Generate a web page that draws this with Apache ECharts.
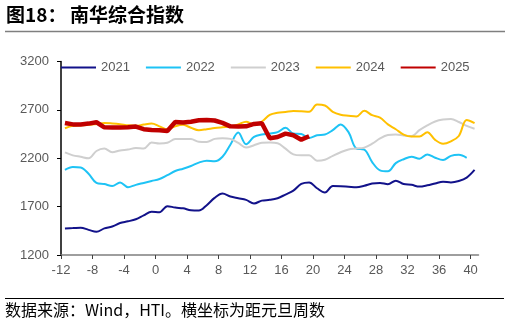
<!DOCTYPE html>
<html>
<head>
<meta charset="utf-8">
<script src="https://cdn.jsdelivr.net/npm/echarts@6/dist/echarts.min.js"></script>
<style>
html,body{margin:0;padding:0;background:#fff;}
#chart{width:510px;height:325px;}
</style>
</head>
<body>
<div id="chart"></div>
<script>
// week positions (weeks from New Year)
var weeks = [-11.5,-10.5,-9.5,-8.5,-7.5,-6.5,-5.5,-4.5,-3.5,-2.5,-1.5,-0.5,0.5,1.5,2.5,3.5,4.5,5.5,6.5,7.5,8.5,9.5,10.5,11.5,12.5,13.5,14.5,15.5,16.5,17.5,18.5,19.5,20.5,21.5,22.5,23.5,24.5,25.5,26.5,27.5,28.5,29.5,30.5,31.5,32.5,33.5,34.5,35.5,36.5,37.5,38.5,39.5,40.5];
var xTicks = [-12,-8,-4,0,4,8,12,16,20,24,28,32,36,40];
var yTicks = [1200,1700,2200,2700,3200];
var seriesNames = ['2021','2022','2023','2024','2025'];

var v2021 = [1475,1478,1482,1460,1440,1475,1495,1530,1548,1570,1610,1648,1642,1705,1690,1683,1662,1660,1715,1790,1835,1805,1787,1770,1733,1762,1770,1787,1825,1865,1935,1950,1890,1845,1912,1910,1905,1900,1915,1938,1945,1932,1968,1933,1925,1907,1920,1940,1958,1950,1965,2000,2079];
var v2022 = [2080,2110,2105,2040,1945,1933,1912,1950,1900,1925,1945,1965,1985,2025,2068,2092,2120,2155,2175,2168,2215,2340,2465,2345,2420,2445,2455,2470,2515,2455,2450,2410,2438,2445,2490,2550,2470,2300,2290,2160,2075,2065,2150,2190,2215,2195,2240,2205,2182,2225,2235,2205,null];
var v2023 = [2260,2230,2215,2200,2275,2300,2262,2280,2290,2305,2300,2362,2352,2360,2398,2400,2398,2370,2368,2400,2407,2400,2358,2310,2335,2360,2362,2355,2300,2240,2230,2232,2175,2185,2225,2262,2290,2300,2310,2350,2405,2440,2445,2435,2428,2490,2540,2580,2600,2606,2575,2535,2505];
var v2024 = [2510,2535,2540,2545,2555,2565,2560,2552,2540,2535,2548,2558,2530,2500,2530,2545,2515,2490,2500,2512,2520,2527,2550,2578,2550,2580,2648,2670,2678,2688,2685,2680,2755,2745,2680,2650,2640,2632,2690,2645,2620,2550,2500,2445,2425,2425,2470,2390,2350,2375,2430,2595,2562];
var v2025 = [2565,2550,2550,2558,2572,2520,2518,2517,2520,2527,2500,2492,2490,2482,2575,2570,2578,2592,2595,2590,2565,2530,2527,2530,2555,2562,2407,2420,2455,2438,2392,2428];

function pairs(vals){
  var out = [];
  for (var i = 0; i < vals.length; i++) out.push([weeks[i], vals[i]]);
  return out;
}

var colors = ['#12128a','#1ec3f5','#cfcfcf','#ffc000','#c00000'];
var values = [v2021, v2022, v2023, v2024, v2025];
var widths = [2, 2, 2, 2, 4.5];

var series = seriesNames.map(function(n, k){
  return {
    name: n,
    type: 'line',
    data: pairs(values[k]),
    symbol: 'none',
    smooth: k < 4 ? 0.35 : false,
    connectNulls: false,
    lineStyle: {color: colors[k], width: widths[k]},
    itemStyle: {color: colors[k]},
    z: 2 + k
  };
});

var chart = echarts.init(document.getElementById('chart'), null, {renderer: 'canvas'});
chart.setOption({
  animation: false,
  backgroundColor: '#fff',
  grid: {left: 61, top: 61.5, right: 31.5, bottom: 70, containLabel: false},
  legend: {
    data: seriesNames,
    left: 55, top: 56,
    itemWidth: 35, itemHeight: 4, itemGap: 15,
    itemStyle: {opacity: 0},
    textStyle: {color: '#595959', fontSize: 13, fontFamily: 'Liberation Sans, Arial, sans-serif'}
  },
  xAxis: {
    type: 'value', min: -12, max: 41,
    axisLine: {show: true, onZero: false, lineStyle: {color: '#7f7f7f', width: 1.5}},
    axisTick: {show: true, length: 4, lineStyle: {color: '#404040'}, customValues: xTicks},
    axisLabel: {color: '#595959', fontSize: 13, margin: 9, fontFamily: 'Liberation Sans, Arial, sans-serif', customValues: xTicks},
    splitLine: {show: false}
  },
  yAxis: {
    type: 'value', min: 1200, max: 3200, interval: 500,
    axisLine: {show: true, onZero: false, lineStyle: {color: '#000', width: 1.5}},
    axisTick: {show: true, length: 4, lineStyle: {color: '#000'}, customValues: yTicks},
    axisLabel: {color: '#595959', fontSize: 13, margin: 12, fontFamily: 'Liberation Sans, Arial, sans-serif', customValues: yTicks,
      formatter: function(v){ return String(v); }},
    splitLine: {show: false}
  },
  graphic: [
    {type: 'text', left: 6, top: 5, style: {text: '图18：', fontSize: 19, fontWeight: 'bold', fill: '#000', fontFamily: 'Noto Sans CJK SC'}},
    {type: 'text', left: 70, top: 5, style: {text: '南华综合指数', fontSize: 19, fontWeight: 'bold', fill: '#000', fontFamily: 'Noto Sans CJK SC'}},
    {type: 'line', shape: {x1: 5, y1: 31.5, x2: 505, y2: 31.5}, style: {stroke: '#7f7f7f', lineWidth: 1.5}},
    {type: 'line', shape: {x1: 5, y1: 298.5, x2: 504, y2: 298.5}, style: {stroke: '#000', lineWidth: 1}},
    {type: 'text', left: 5, top: 302, style: {text: '数据来源：Wind，HTI。横坐标为距元旦周数', fontSize: 16, fill: '#000', fontFamily: 'Noto Sans CJK SC'}}
  ],
  series: series
});
</script>
</body>
</html>
